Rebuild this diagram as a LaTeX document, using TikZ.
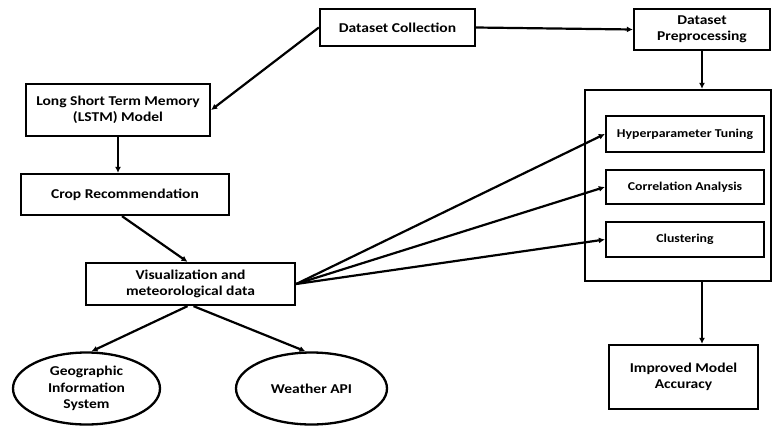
\documentclass[tikz,border=0pt]{standalone}
\usepackage{fontspec}
\setmainfont{Carlito}
\newfontfamily\cfbig[FakeStretch=1.15]{Carlito}
\usetikzlibrary{arrows.meta,shapes.geometric}
\begin{document}
\begin{tikzpicture}[x=1pt,y=-1pt,
  box/.style={draw,line width=2.3pt,rectangle,align=center,inner sep=1pt,
    font=\cfbig\bfseries\fontsize{13.5}{16.5}\selectfont},
  sbox/.style={box,font=\cfbig\bfseries\fontsize{12}{14.5}\selectfont},
  oval/.style={draw,line width=2.3pt,ellipse,align=center,inner sep=0pt,
    font=\cfbig\bfseries\fontsize{13.5}{16.5}\selectfont},
  arr/.style={line width=2.2pt,-{Latex[length=6pt,width=6pt]}}]
\useasboundingbox (0,0) rectangle (774,429);
\node[box,minimum width=155pt,minimum height=37pt] (dc) at (397.5,27.5) {Dataset Collection};
\node[box,minimum width=136pt,minimum height=41pt] (dp) at (702,29.5) {Dataset\\Preprocessing};
\node[box,minimum width=184pt,minimum height=52pt] (lstm) at (118,110) {Long Short Term Memory\\(LSTM) Model};
\node[box,minimum width=208pt,minimum height=41pt] (crop) at (125,194.5) {Crop Recommendation};
\node[box,minimum width=209pt,minimum height=42pt] (vis) at (190.5,284) {Visualization and\\meteorological data};
\node[oval,minimum width=147pt,minimum height=72pt] (gis) at (86.5,388.5) {Geographic\\Information\\System};
\node[oval,minimum width=151pt,minimum height=72pt] (wapi) at (311.5,388.5) {Weather API};
\node[draw,line width=2.3pt,minimum width=186pt,minimum height=191pt,inner sep=0pt] (cont) at (678,185.5) {};
\node[sbox,minimum width=158pt,minimum height=36pt] (ht) at (685,134) {Hyperparameter Tuning};
\node[sbox,minimum width=158pt,minimum height=34pt] (ca) at (685,187) {Correlation Analysis};
\node[sbox,minimum width=158pt,minimum height=35pt] (cl) at (685,239.5) {Clustering};
\node[box,minimum width=149pt,minimum height=64pt] (ima) at (683.5,377) {Improved Model\\Accuracy};
\draw[arr] (dc.west) -- (lstm.east);
\draw[arr] (dc.east) -- (dp.west);
\draw[arr] (dp.south) -- (dp.south |- cont.north);
\draw[arr] (lstm.south) -- (lstm.south |- crop.north);
\draw[arr] ([xshift=-3pt]crop.south) -- ([xshift=-3pt]vis.north);
\draw[arr] (vis.east) -- (ht.west);
\draw[arr] (vis.east) -- (ca.west);
\draw[arr] (vis.east) -- (cl.west);
\draw[arr] ([xshift=-3pt]vis.south) -- ([xshift=5pt]gis.north);
\draw[arr] ([xshift=3pt]vis.south) -- ([xshift=-6pt]wapi.north);
\draw[arr] (cont.south -| dp.south) -- (ima.north -| dp.south);
\end{tikzpicture}
\end{document}
